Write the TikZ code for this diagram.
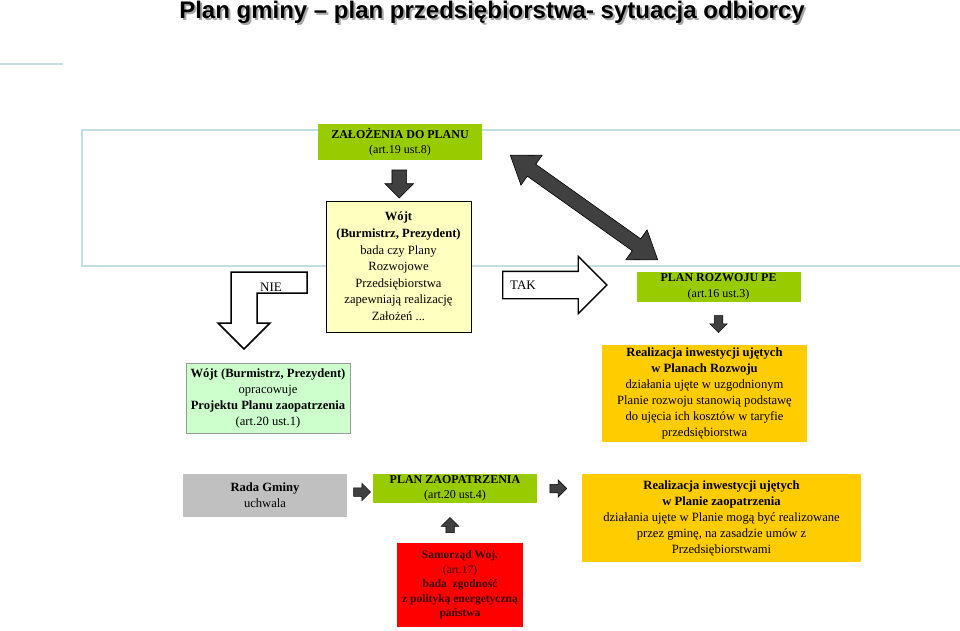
\documentclass[tikz,border=0pt]{standalone}
\usepackage{fontspec}
\setmainfont{Liberation Serif}
\newfontfamily\titlefont[Ligatures=TeX]{Liberation Sans}
\usetikzlibrary{shapes.arrows,calc}

\definecolor{plangreen}{HTML}{99CC00}
\definecolor{paleyellow}{HTML}{FFFFC0}
\definecolor{palegreen}{HTML}{CCFFCC}
\definecolor{planorange}{HTML}{FFCC00}
\definecolor{radagray}{HTML}{C0C0C0}
\definecolor{arrowgray}{HTML}{404040}
\definecolor{frameblue}{HTML}{C3DEE2}
\definecolor{darkred}{HTML}{3A0000}

\begin{document}
\begin{tikzpicture}[x=1pt,y=-1pt,
    greenbox/.style={fill=plangreen, inner sep=0pt, align=center,
      font=\fontsize{12}{15.5}\selectfont},
    txtbox/.style={inner sep=0pt, align=center, font=\fontsize{12.6}{16}\selectfont},
    bigdarrow/.style={single arrow, fill=arrowgray, draw=black, line width=0.6pt,
      inner xsep=0pt, inner ysep=7pt, minimum width=28pt, single arrow head extend=7pt, minimum height=28pt},
    smalldarrow/.style={single arrow, fill=arrowgray, draw=black, line width=0.5pt,
      inner xsep=0pt, inner ysep=4pt, minimum width=17pt, single arrow head extend=4.5pt, minimum height=17pt}]
    \useasboundingbox (0,0) rectangle (960,631);

    % title with its shadow
    \node[font=\titlefont\bfseries\fontsize{24}{28}\selectfont, text=black!35] (titleshadow) at (494,14)
      {Plan gminy – plan przedsiębiorstwa- sytuacja odbiorcy};
    \node[font=\titlefont\bfseries\fontsize{24}{28}\selectfont] (title) at (492,12)
      {Plan gminy – plan przedsiębiorstwa- sytuacja odbiorcy};
    \draw[frameblue, line width=2pt] (0,64) -- (63,64);
    \draw[frameblue, line width=2.5pt] (960,130) -- (82,130) -- (82,266) -- (960,266);

    % upper part
    \node[greenbox, minimum width=164pt, minimum height=36pt] (zal) at (400,142)
      {\textbf{ZAŁOŻENIA DO PLANU}\\(art.19 ust.8)};
    \node[txtbox, fill=paleyellow, draw=black, line width=0.9pt, minimum width=145pt, minimum height=131pt,
      font=\fontsize{12.6}{16.6}\selectfont] (wojt) at (398.5,266.5)
      {\textbf{Wójt}\\\textbf{(Burmistrz, Prezydent)}\\bada czy Plany\\Rozwojowe\\Przedsiębiorstwa\\zapewniają realizację\\Założeń ...};
    \node[bigdarrow, rotate=-90] (a1) at ($(zal.south)!0.5!(wojt.north)$) {};

    \draw[fill=white, line width=1.5pt] (231,272) -- (307,272) -- (307,293) -- (257,293) -- (257,323)
      -- (270,323) -- (244,349) -- (218,323) -- (231,323) -- cycle;
    \node[txtbox, font=\fontsize{13}{16}\selectfont] (nie) at (271,287) {NIE};

    \node[single arrow, fill=white, draw=black, line width=1.3pt, inner xsep=0pt, inner ysep=13pt,
      minimum width=56pt, single arrow head extend=15pt, minimum height=104pt] (takarrow) at (548,285) {};
    \node[txtbox, font=\fontsize{13}{16}\selectfont] (tak) at (523,285) {TAK};

    \node[greenbox, minimum width=164pt, minimum height=30pt] (rozwoj) at (718.5,287)
      {\textbf{PLAN ROZWOJU PE}\\(art.16 ust.3)};
    \node[double arrow, fill=arrowgray, draw=black, line width=0.6pt, inner xsep=0pt, inner ysep=7pt,
      minimum width=36pt, double arrow head extend=11pt, double arrow tip angle=70, minimum height=181pt,
      rotate=-35.4] (link) at (584,207.5) {};

    % middle row
    \node[txtbox, fill=palegreen, draw=black!40, line width=0.6pt, minimum width=164pt, minimum height=70pt]
      (projekt) at (268,398)
      {\textbf{Wójt (Burmistrz, Prezydent)}\\opracowuje\\\textbf{Projektu Planu zaopatrzenia}\\(art.20 ust.1)};
    \node[txtbox, fill=planorange, minimum width=205pt, minimum height=97pt] (realiz1) at (704.5,393.5)
      {\textbf{Realizacja inwestycji ujętych}\\\textbf{w Planach Rozwoju}\\działania ujęte w uzgodnionym\\Planie rozwoju stanowią podstawę\\do ujęcia ich kosztów w taryfie\\przedsiębiorstwa};
    \node[smalldarrow, rotate=-90] (a2) at ([yshift=-35pt]rozwoj.center) {};

    % bottom row
    \node[txtbox, fill=radagray, minimum width=164pt, minimum height=43pt] (rada) at (265,495.5)
      {\textbf{Rada Gminy}\\uchwala};
    \node[greenbox, minimum width=164pt, minimum height=29pt] (zaop) at (455,488.5)
      {\textbf{PLAN ZAOPATRZENIA}\\(art.20 ust.4)};
    \node[txtbox, fill=red, text=darkred, minimum width=126pt, minimum height=84pt,
      font=\fontsize{11.5}{14.5}\selectfont] (samorzad) at (460,585)
      {\textbf{Samorząd Woj.}\\(art.17)\\\textbf{bada\ \ zgodność}\\\textbf{z polityką energetyczną}\\\textbf{państwa}};
    \node[txtbox, fill=planorange, minimum width=279pt, minimum height=88pt] (realiz2) at (721.5,518)
      {\textbf{Realizacja inwestycji ujętych}\\\textbf{w Planie zaopatrzenia}\\działania ujęte w Planie mogą być realizowane\\przez gminę, na zasadzie umów z\\Przedsiębiorstwami};
    \node[smalldarrow] (a3) at ($(rada.east)!0.5!(zaop.west)$) {};
    \node[smalldarrow] (a4) at ([xshift=19pt]zaop.east) {};
    \node[smalldarrow, rotate=90, minimum height=15pt] (a5) at ([xshift=-5pt,yshift=-24pt]zaop.south) {};
\end{tikzpicture}
\end{document}
